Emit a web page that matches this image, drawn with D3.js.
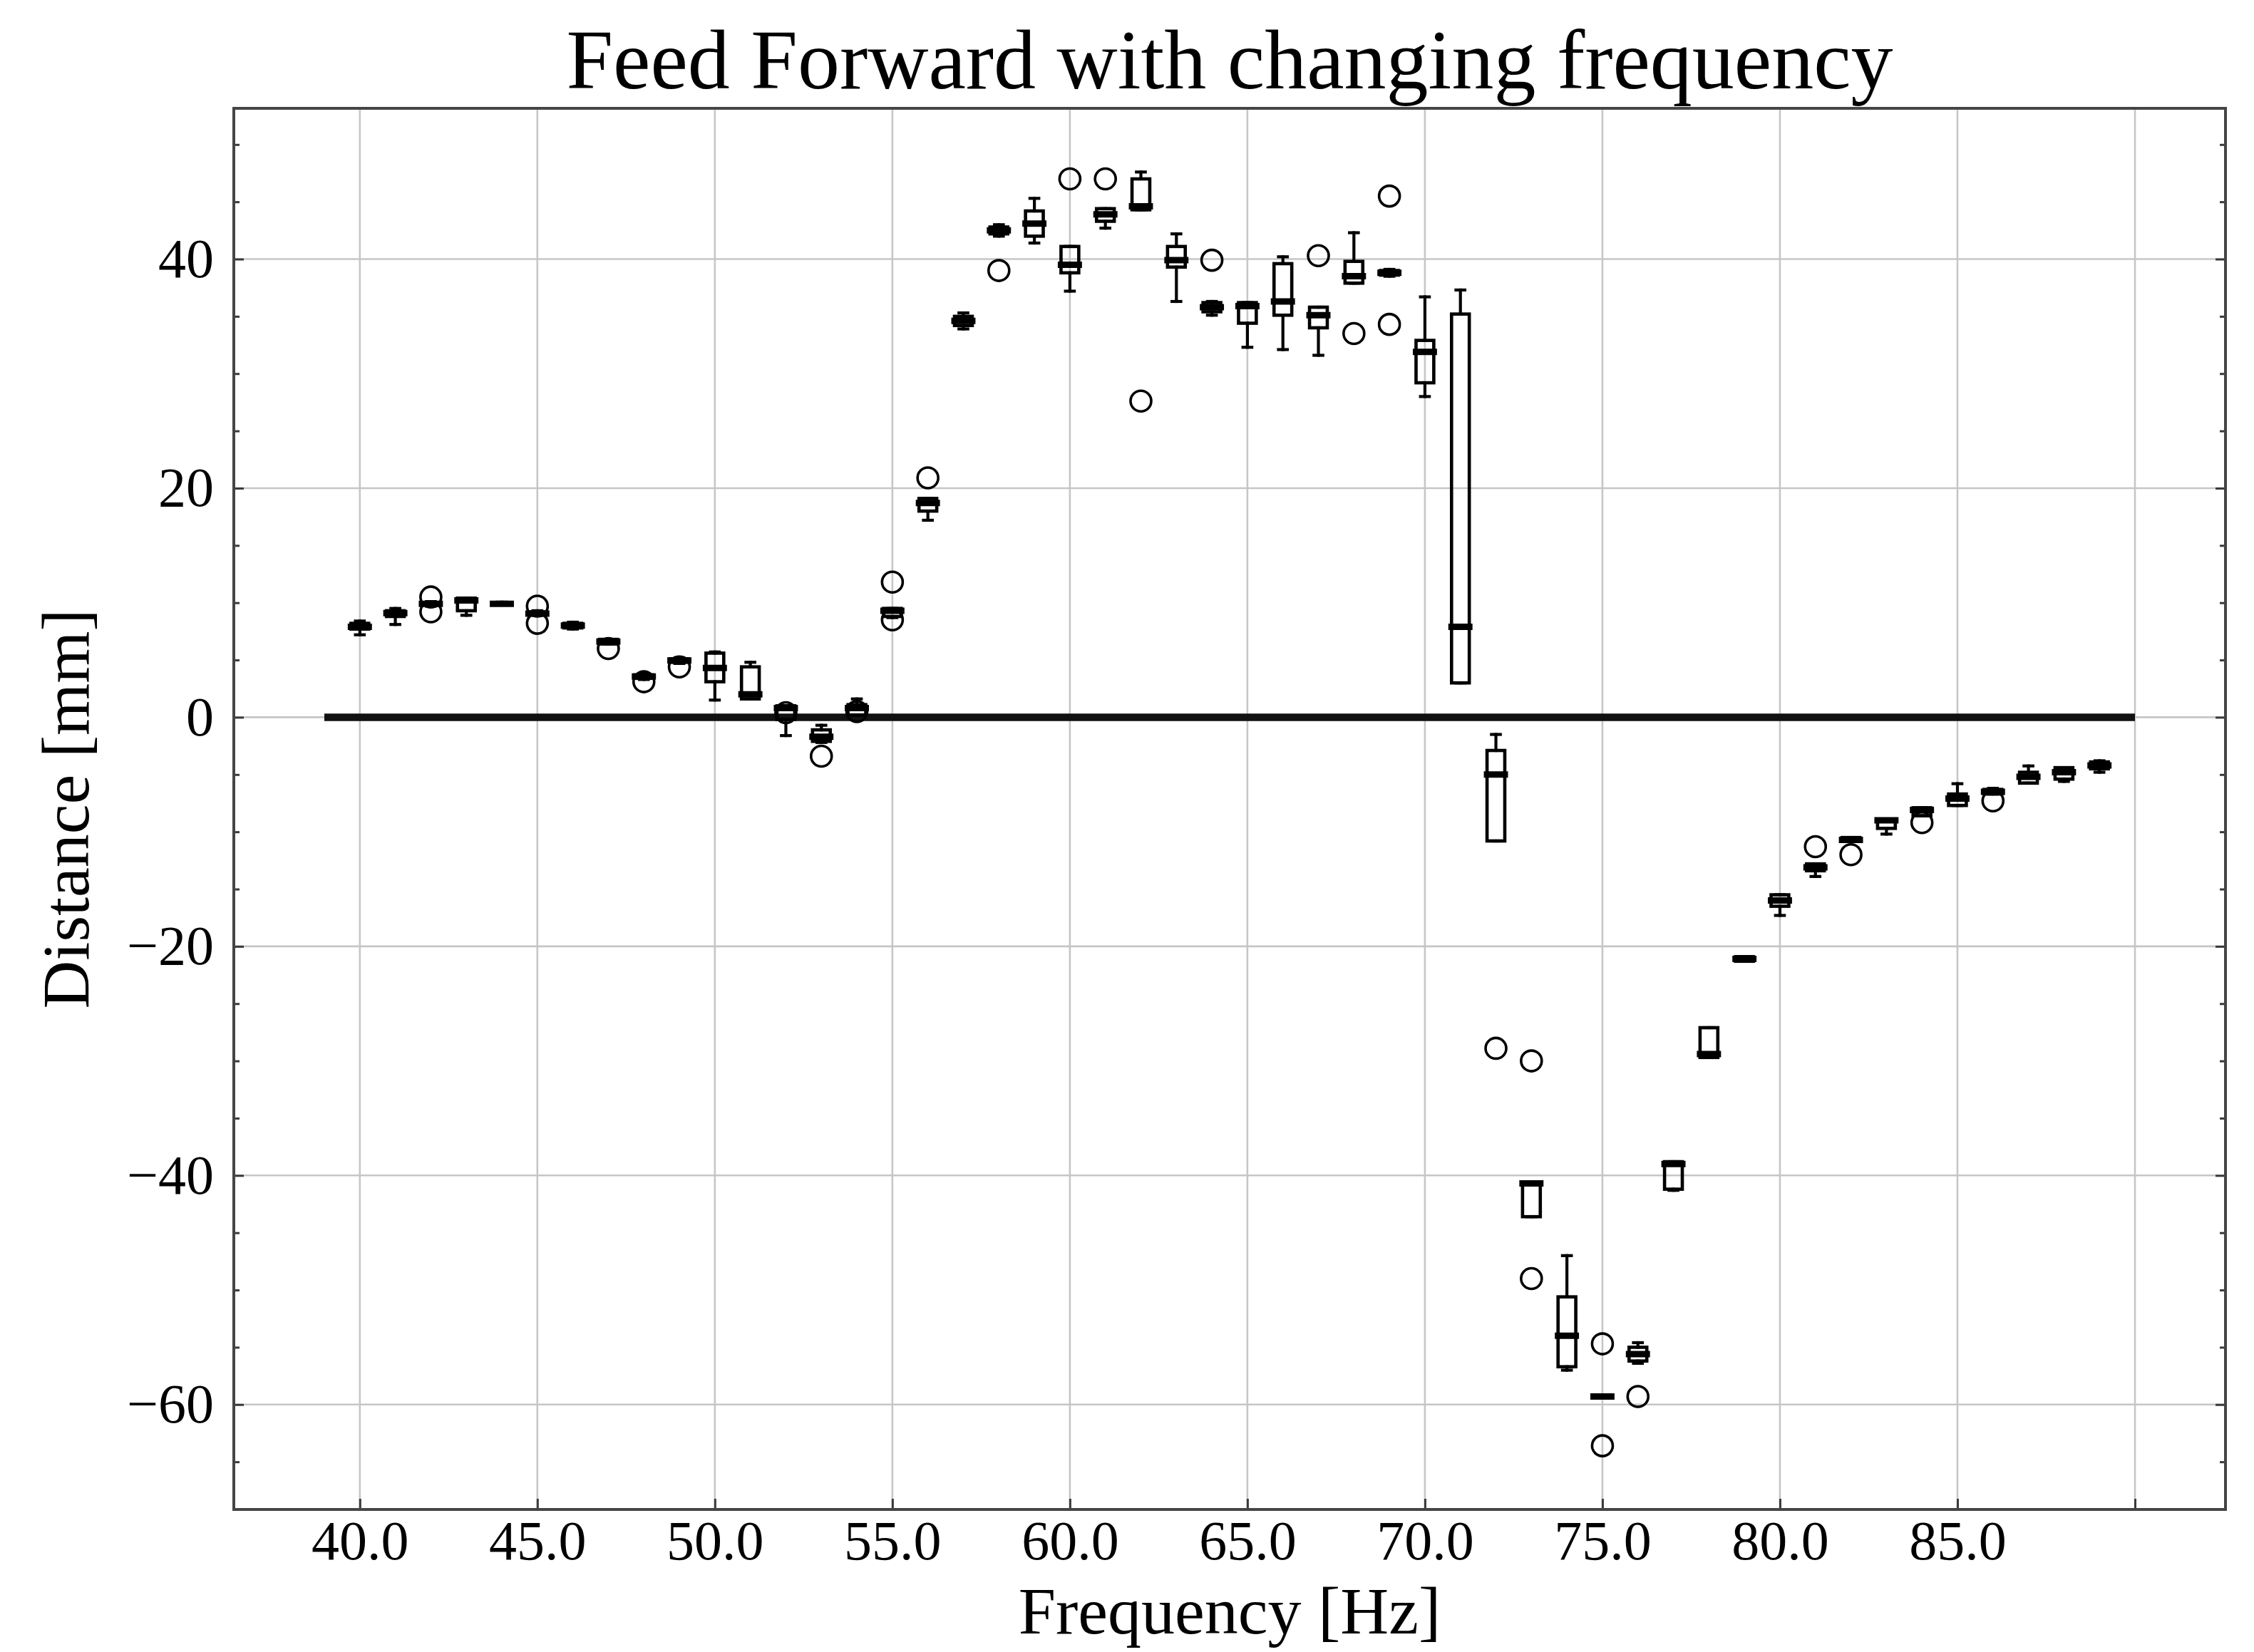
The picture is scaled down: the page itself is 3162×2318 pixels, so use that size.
<!DOCTYPE html>
<html>
<head>
<meta charset="utf-8">
<script src="https://cdn.jsdelivr.net/npm/d3@7"></script>
<style>
  body { margin: 0; background: #fff; }
</style>
</head>
<body>
<div id="chart"></div>
<script>
// box statistics, one entry per frequency
const freqs = [40, 41, 42, 43, 44, 45, 46, 47, 48, 49,
    50, 51, 52, 53, 54, 55, 56, 57, 58, 59,
    60, 61, 62, 63, 64, 65, 66, 67, 68, 69,
    70, 71, 72, 73, 74, 75, 76, 77, 78, 79,
    80, 81, 82, 83, 84, 85, 86, 87, 88, 89];

const whiskerLow = [7.2, 8.1, 9.7, 8.9, 9.8, 8.9, 7.7, 6.4, 3.3, 4.7,
    1.5, 1.6, -1.6, -2.2, 0.2, 8.7, 17.2, 33.9, 42.0, 41.4,
    37.2, 42.7, 44.3, 36.3, 35.1, 32.3, 32.1, 31.6, 37.9, 38.5,
    28.0, 3.0, -10.8, -43.6, -57.0, -59.4, -56.4, -41.3, -29.7, -21.3,
    -17.3, -13.9, -10.8, -10.2, -8.6, -7.7, -6.7, -5.75, -5.6, -4.8];

const q1 = [7.7, 8.8, 9.8, 9.3, 9.85, 8.95, 7.8, 6.4, 3.4, 4.8,
    3.1, 1.6, -0.2, -2.1, 0.2, 8.8, 18.0, 34.2, 42.2, 42.0,
    38.8, 43.3, 44.3, 39.3, 35.4, 34.4, 35.1, 34.0, 37.9, 38.6,
    29.2, 3.0, -10.8, -43.6, -56.7, -59.4, -56.2, -41.2, -29.7, -21.3,
    -16.5, -13.4, -10.8, -9.7, -8.6, -7.7, -6.7, -5.75, -5.4, -4.5];

const median = [7.9, 9.1, 9.9, 10.2, 9.9, 9.05, 8.0, 6.6, 3.55, 4.95,
    4.3, 2.0, 0.8, -1.7, 0.8, 9.3, 18.7, 34.6, 42.5, 43.1,
    39.5, 43.9, 44.6, 39.9, 35.8, 35.9, 36.3, 35.1, 38.5, 38.8,
    31.9, 7.9, -5.0, -40.7, -54.0, -59.3, -55.6, -39.0, -29.4, -21.1,
    -16.0, -13.1, -10.7, -9.0, -8.1, -7.1, -6.5, -5.2, -4.8, -4.2];

const q3 = [8.2, 9.3, 10.0, 10.4, 10.0, 9.2, 8.2, 6.8, 3.7, 5.1,
    5.6, 4.4, 1.0, -1.1, 1.1, 9.5, 19.1, 35.0, 42.8, 44.2,
    41.1, 44.4, 47.0, 41.1, 36.2, 36.2, 39.6, 35.8, 39.8, 39.0,
    32.9, 35.2, -2.9, -40.6, -50.6, -59.2, -55.0, -38.8, -27.1, -20.9,
    -15.5, -12.8, -10.5, -8.9, -7.9, -6.7, -6.3, -4.8, -4.4, -3.9];

const whiskerHigh = [8.4, 9.5, 10.1, 10.4, 10.05, 9.3, 8.3, 6.8, 3.8, 5.2,
    5.7, 4.8, 1.0, -0.7, 1.6, 9.5, 19.1, 35.3, 43.0, 45.3,
    41.1, 44.4, 47.6, 42.2, 36.3, 36.2, 40.2, 35.8, 42.3, 39.1,
    36.7, 37.3, -1.5, -40.6, -47.0, -59.2, -54.6, -38.8, -27.1, -20.9,
    -15.5, -12.8, -10.5, -8.9, -7.9, -5.8, -6.2, -4.25, -4.4, -3.8];

const outliers = [[], [], [10.5, 9.2], [], [], [9.7, 8.2], [], [6.0], [3.1], [4.4],
    [], [], [0.4], [-3.4], [0.5], [11.8, 8.5], [20.9], [], [39.0], [],
    [47.0], [47.0], [27.6], [], [39.9], [], [], [40.3], [33.5], [45.5, 34.3],
    [], [], [-28.9], [-30.0, -49.0], [], [-54.7, -63.6], [-59.3], [], [], [],
    [], [-11.3], [-12.0], [], [-9.2], [], [-7.3], [], [], []];

// reference line at zero
const zeroLineX = [39, 90];
const zeroLineY = 0;

const xTickValues = [40, 45, 50, 55, 60, 65, 70, 75, 80, 85, 90];
const xTickLabels = ["40.0", "45.0", "50.0", "55.0", "60.0", "65.0", "70.0", "75.0", "80.0", "85.0", ""];
const yTickValues = [-60, -40, -20, 0, 20, 40];
const yTickLabels = ["\u221260", "\u221240", "\u221220", "0", "20", "40"];

const titleText = "Feed Forward with changing frequency";
const xLabelText = "Frequency [Hz]";
const yLabelText = "Distance [mm]";

// ---------------------------------------------------------------
let width = 3162;
let height = 2318;
let padL = 328, padR = 3122, padT = 152, padB = 2118;
let serif = "'Liberation Serif', 'DejaVu Serif', serif";

let svg = d3.select('#chart')
    .append('svg')
    .attr('width', width)
    .attr('height', height)
    .style('display', 'block');

// matplotlib style 5% margins around the data
let xExt = d3.extent(freqs.concat(zeroLineX));
let xPad = (xExt[1] - xExt[0]) * 0.05;
let allY = whiskerLow.concat(whiskerHigh, outliers.flat());
let yExt = d3.extent(allY);
let yPad = (yExt[1] - yExt[0]) * 0.05;

let x = d3.scaleLinear()
    .domain([xExt[0] - xPad, xExt[1] + xPad])
    .range([padL, padR]);
let y = d3.scaleLinear()
    .domain([yExt[0] - yPad, yExt[1] + yPad])
    .range([padB, padT]);

// grid
let grid = svg.append('g');
xTickValues.forEach(function (d) {
    grid.append('line')
        .attr('x1', x(d)).attr('x2', x(d))
        .attr('y1', padT).attr('y2', padB)
        .attr('stroke', '#c6c6c6')
        .attr('stroke-width', 2.6);
});
yTickValues.forEach(function (d) {
    grid.append('line')
        .attr('x1', padL).attr('x2', padR)
        .attr('y1', y(d)).attr('y2', y(d))
        .attr('stroke', '#c6c6c6')
        .attr('stroke-width', 2.6);
});

// zero line
svg.append('line')
    .attr('x1', x(zeroLineX[0]))
    .attr('x2', x(zeroLineX[1]))
    .attr('y1', y(zeroLineY))
    .attr('y2', y(zeroLineY))
    .attr('stroke', '#111')
    .attr('stroke-width', 10.5);

// boxes
let boxW = 0.5, capW = 0.25;
let boxes = svg.append('g')
    .attr('fill', 'none')
    .attr('stroke', '#000')
    .attr('stroke-linecap', 'square');

freqs.forEach(function (f, i) {
    let g = boxes.append('g');
    // whiskers
    g.append('line')
        .attr('x1', x(f)).attr('x2', x(f))
        .attr('y1', y(q1[i])).attr('y2', y(whiskerLow[i]))
        .attr('stroke-width', 4.2);
    g.append('line')
        .attr('x1', x(f)).attr('x2', x(f))
        .attr('y1', y(q3[i])).attr('y2', y(whiskerHigh[i]))
        .attr('stroke-width', 4.2);
    // caps
    [whiskerLow[i], whiskerHigh[i]].forEach(function (v) {
        g.append('line')
            .attr('x1', x(f - capW / 2)).attr('x2', x(f + capW / 2))
            .attr('y1', y(v)).attr('y2', y(v))
            .attr('stroke-width', 4.2);
    });
    // box
    g.append('rect')
        .attr('x', x(f - boxW / 2))
        .attr('y', y(q3[i]))
        .attr('width', x(f + boxW / 2) - x(f - boxW / 2))
        .attr('height', Math.max(0.01, y(q1[i]) - y(q3[i])))
        .attr('stroke-width', 4.6);
    // median
    g.append('line')
        .attr('x1', x(f - boxW / 2)).attr('x2', x(f + boxW / 2))
        .attr('y1', y(median[i])).attr('y2', y(median[i]))
        .attr('stroke-width', 9);
    // fliers
    outliers[i].forEach(function (v) {
        g.append('circle')
            .attr('cx', x(f))
            .attr('cy', y(v))
            .attr('r', 14.5)
            .attr('stroke-width', 3.6);
    });
});

// axes with inward ticks
function styleAxis(sel) {
    sel.select('.domain').remove();
    sel.selectAll('.tick line')
        .attr('stroke', '#3a3a3a')
        .attr('stroke-width', 3);
    sel.selectAll('text')
        .attr('fill', '#000')
        .style('font-family', serif)
        .style('font-size', '78px');
}

let xAxis = d3.axisBottom(x)
    .tickValues(xTickValues)
    .tickFormat(function (d, i) { return xTickLabels[i]; })
    .tickSizeInner(-15)
    .tickSizeOuter(0)
    .tickPadding(15);
svg.append('g')
    .attr('transform', 'translate(0,' + padB + ')')
    .call(xAxis)
    .call(styleAxis);

let yAxis = d3.axisLeft(y)
    .tickValues(yTickValues)
    .tickFormat(function (d, i) { return yTickLabels[i]; })
    .tickSizeInner(-14)
    .tickSizeOuter(0)
    .tickPadding(28);
svg.append('g')
    .attr('transform', 'translate(' + padL + ',0)')
    .call(yAxis)
    .call(styleAxis);

let yMinor = d3.range(-65, 55, 5).filter(function (d) { return d % 20 !== 0; });
svg.append('g')
    .attr('transform', 'translate(' + padL + ',0)')
    .call(d3.axisLeft(y).tickValues(yMinor).tickFormat('').tickSizeInner(-8).tickSizeOuter(0))
    .call(styleAxis);

svg.append('g')
    .attr('transform', 'translate(' + padR + ',0)')
    .call(d3.axisRight(y).tickValues(yTickValues).tickFormat('').tickSizeInner(-14).tickSizeOuter(0))
    .call(styleAxis);
svg.append('g')
    .attr('transform', 'translate(' + padR + ',0)')
    .call(d3.axisRight(y).tickValues(yMinor).tickFormat('').tickSizeInner(-8).tickSizeOuter(0))
    .call(styleAxis);

// frame
svg.append('rect')
    .attr('x', padL).attr('y', padT)
    .attr('width', padR - padL).attr('height', padB - padT)
    .attr('fill', 'none')
    .attr('stroke', '#454545')
    .attr('stroke-width', 4);

// titles
svg.append('text')
    .attr('x', (padL + padR) / 2)
    .attr('y', 124)
    .attr('text-anchor', 'middle')
    .style('font-family', serif)
    .style('font-size', '118px')
    .text(titleText);

svg.append('text')
    .attr('x', (padL + padR) / 2)
    .attr('y', 2292)
    .attr('text-anchor', 'middle')
    .style('font-family', serif)
    .style('font-size', '94px')
    .text(xLabelText);

svg.append('text')
    .attr('transform', 'translate(124,' + ((padT + padB) / 2) + ') rotate(-90)')
    .attr('text-anchor', 'middle')
    .style('font-family', serif)
    .style('font-size', '94px')
    .text(yLabelText);
</script>
</body>
</html>
